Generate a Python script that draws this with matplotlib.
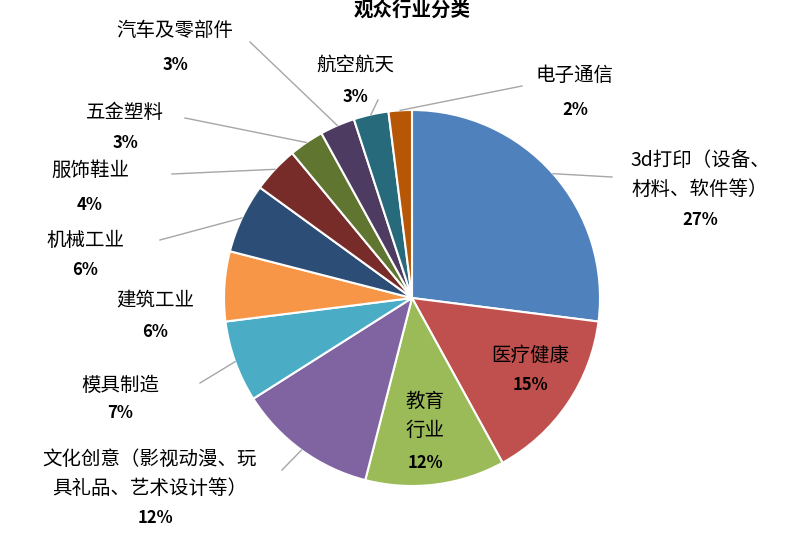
import numpy as np
import matplotlib.pyplot as plt

plt.rcParams['font.family'] = ['Noto Sans CJK SC', 'DejaVu Sans']

categories = ["3d打印（设备、\n材料、软件等）", "医疗健康", "教育\n行业", "文化创意（影视动漫、玩\n具礼品、艺术设计等）",
              "模具制造", "建筑工业", "机械工业", "服饰鞋业", "五金塑料", "汽车及零部件", "航空航天", "电子通信"]
shares = [27, 15, 12, 12, 7, 6, 6, 4, 3, 3, 3, 2]
colors = ["#4F81BD", "#C0504D", "#9BBB59", "#8064A2", "#4BACC6", "#F79646",
          "#2C4D75", "#772C2A", "#5F7530", "#4D3B62", "#276A7C", "#B65708"]

H = 533
fig = plt.figure(figsize=(8, 5.33), dpi=100)
ax = fig.add_axes([0, 0, 1, 1])

cx, cy, r = 412, H - 298, 188
ax.pie(shares, colors=colors, startangle=90, counterclock=False,
       center=(cx, cy), radius=r, frame=True,
       wedgeprops=dict(edgecolor='white', linewidth=1.5))
ax.set_xlim(0, 800)
ax.set_ylim(0, H)
ax.set_aspect('equal')
ax.axis('off')

# label placement in pixel coords (x, y of name; y of percent), leader-line start
place = [
    (700, 175, 220, (612, 177)),
    (530, 355, 385, None),
    (425, 416, 463, None),
    (150, 474, 518, (282, 470)),
    (120, 385, 413, (200, 383)),
    (155, 300, 332, None),
    (85, 240, 270, (160, 240)),
    (90, 170, 205, (172, 174)),
    (125, 112, 143, (185, 118)),
    (175, 30, 65, (250, 42)),
    (355, 65, 97, (378, 100)),
    (575, 75, 110, (522, 86)),
]

start = 90.0
for cat, s, (lx, ly, py, lead) in zip(categories, shares, place):
    mid = start - s * 3.6 / 2
    start -= s * 3.6
    ax.text(lx, H - ly, cat, ha='center', va='center', fontsize=14, linespacing=1.5)
    ax.text(lx + (5 if s == 12 and lx < 200 else 0), H - py, f"{s}%", ha='center', va='center',
            fontsize=12, fontweight='bold')
    if lead is not None:
        a = np.deg2rad(mid)
        ex, ey = cx + r * np.cos(a), cy + r * np.sin(a)
        ax.plot([lead[0], ex], [H - lead[1], ey], color='#A6A6A6', lw=1)

ax.text(412, H - 10, "观众行业分类", ha='center', va='center', fontsize=14, fontweight='bold')

fig.savefig("out.png", dpi=100)
